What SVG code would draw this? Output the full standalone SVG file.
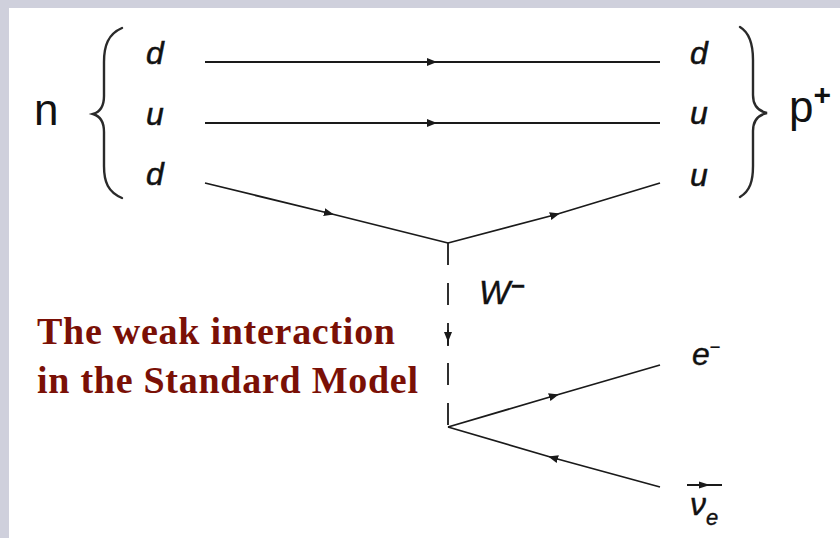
<svg xmlns="http://www.w3.org/2000/svg" width="840" height="538" viewBox="0 0 840 538">
  <defs>
    <marker id="arr" viewBox="0 0 10 8" refX="6" refY="4" markerWidth="10" markerHeight="8" markerUnits="userSpaceOnUse" orient="auto">
      <path d="M0,0 L10,4 L0,8 Z" fill="#1a1a1a"/>
    </marker>
  </defs>
  <style>
    .line { fill: none; stroke: #1a1a1a; stroke-width: 1.8; }
    .brace { fill: none; stroke: #2a2a2a; stroke-width: 2.4; stroke-linecap: round; }
    .q { font-family: "Liberation Sans", Arial, sans-serif; font-style: italic; font-size: 32px; fill: #111; stroke: #111; stroke-width: 0.5; }
    .big { font-family: "Liberation Sans", Arial, sans-serif; font-size: 44px; fill: #111; }
    .lab { font-family: "Liberation Sans", Arial, sans-serif; fill: #111; stroke: #111; stroke-width: 0.4; }
    .title { font-family: "Liberation Serif", "Times New Roman", serif; font-weight: bold; font-size: 38px; fill: #7a1006; }
  </style>
  <rect x="0" y="0" width="840" height="538" fill="#cfd0dc"/>
  <rect x="9" y="8" width="831" height="530" fill="#ffffff"/>

  <g id="connectors">
    <path class="line" d="M205,62 L433,62 L660,62" marker-mid="url(#arr)"/>
    <path class="line" d="M205,123 L433,123 L660,123" marker-mid="url(#arr)"/>
    <path class="line" d="M205,183 L330,213.5 L448,243" marker-mid="url(#arr)"/>
    <path class="line" d="M448,243 L556,214.5 L660,183" marker-mid="url(#arr)"/>
    <path class="line" d="M448,243 L448,427" stroke-dasharray="22 18"/>
    <path class="line" d="M448,330 L448,338 L448,346" marker-mid="url(#arr)" stroke="none"/>
    <path class="line" d="M448,427 L555,395.5 L660,365" marker-mid="url(#arr)"/>
    <path class="line" d="M660,487 L552,457.5 L448,427" marker-mid="url(#arr)"/>
  </g>

  <g id="neutron">
    <text class="big" x="34" y="125">n</text>
    <path class="brace" d="M122,28 C108,34 104,46 104,62 L104,96 C104,106 100,112 93,114 C100,116 104,122 104,132 L104,166 C104,182 108,192 122,198"/>
    <text class="q" x="146" y="64">d</text>
    <text class="q" x="146" y="125">u</text>
    <text class="q" x="146" y="185">d</text>
  </g>

  <g id="proton">
    <text class="q" x="690" y="64">d</text>
    <text class="q" x="690" y="124">u</text>
    <text class="q" x="690" y="186">u</text>
    <path class="brace" d="M740,27 C750,33 753,45 753,60 L753,95 C753,105 758,111 767,113 C758,115 753,121 753,131 L753,166 C753,181 750,191 740,197"/>
    <text class="big" x="789" y="122">p<tspan font-size="30" font-weight="bold" dy="-17">+</tspan></text>
  </g>

  <g id="wboson">
    <text class="lab" x="479" y="304" font-size="33" font-style="italic">W</text>
    <text class="lab" x="511" y="294" font-size="24" font-weight="bold">−</text>
  </g>

  <g id="electron">
    <text class="lab" x="692" y="365" font-size="32" font-style="italic">e<tspan font-size="18" font-style="normal" dy="-12">−</tspan></text>
  </g>

  <g id="antineutrino">
    <line class="line" x1="687" y1="485" x2="722" y2="485"/>
    <path d="M699,481.5 L710,485 L699,488.5 Z" fill="#1a1a1a"/>
    <text class="lab" x="690" y="515" font-size="32" font-style="italic">ν<tspan font-size="22" dy="10">e</tspan></text>
  </g>

  <g id="title">
    <text class="title" x="37" y="344" textLength="358" lengthAdjust="spacing">The weak interaction</text>
    <text class="title" x="37" y="393" textLength="381" lengthAdjust="spacing">in the Standard Model</text>
  </g>
</svg>
